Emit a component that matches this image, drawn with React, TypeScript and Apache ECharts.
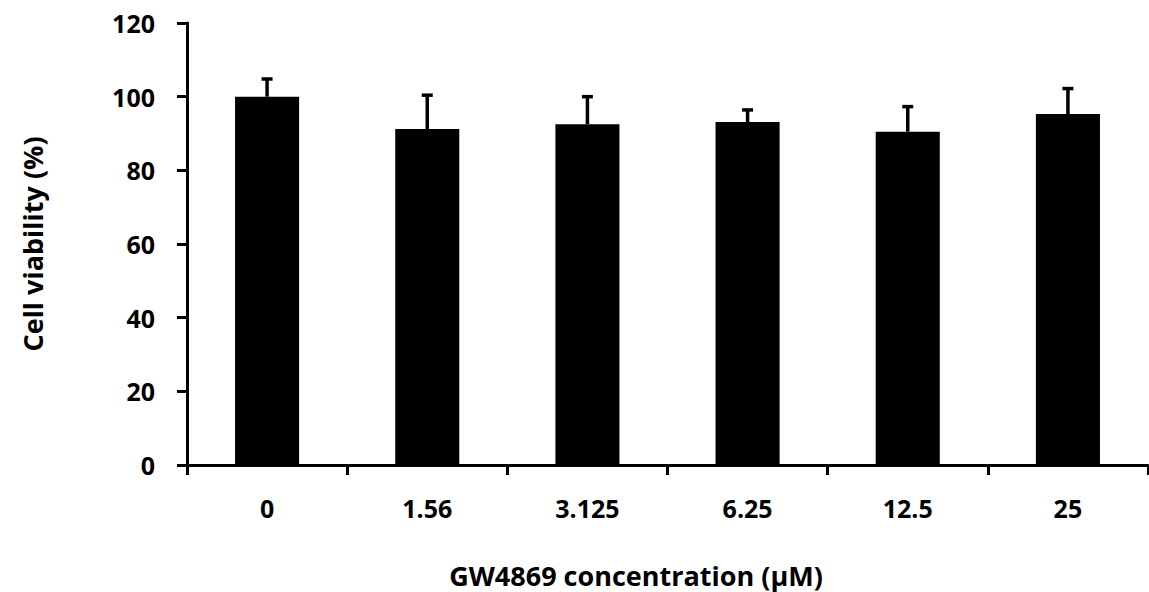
import React, { useEffect, useRef } from "react";
import * as echarts from "echarts";

const categories = ["0", "1.56", "3.125", "6.25", "12.5", "25"];
const viability = [100, 91.2, 92.5, 93.1, 90.5, 95.3];
const errors = [4.8, 9.2, 7.5, 3.3, 6.8, 6.9];
const yTicks = [0, 20, 40, 60, 80, 100, 120];

const FONT = "'Open Sans', 'Noto Sans', sans-serif";

export default function App() {
  const ref = useRef<HTMLDivElement>(null);
  useEffect(() => {
    if (!ref.current) return;
    const chart = echarts.init(ref.current, null, { renderer: "svg" });
    const errData = categories.map((c, i) => [i, viability[i], viability[i] + errors[i]]);
    chart.setOption({
      animation: false,
      grid: { left: 187, right: 1, top: 23, bottom: 127, containLabel: false },
      xAxis: {
        type: "category",
        data: categories,
        axisLine: { lineStyle: { color: "#000", width: 3 } },
        axisTick: { show: true, length: 10, lineStyle: { color: "#000", width: 3 } },
        axisLabel: { color: "#000", fontFamily: FONT, fontWeight: "bold", fontSize: 25, margin: 30 },
      },
      yAxis: {
        type: "value",
        min: yTicks[0],
        max: yTicks[yTicks.length - 1],
        interval: 20,
        axisLine: { show: true, lineStyle: { color: "#000", width: 3 } },
        axisTick: { show: true, length: 10, lineStyle: { color: "#000", width: 3 } },
        axisLabel: { color: "#000", fontFamily: FONT, fontWeight: "bold", fontSize: 25, margin: 32 },
        splitLine: { show: false },
      },
      series: [
        {
          type: "bar",
          data: viability,
          barWidth: "40%",
          itemStyle: { color: "#000" },
        },
        {
          type: "custom",
          data: errData,
          z: 10,
          renderItem: (params: any, api: any) => {
            const x = api.value(0);
            const base = api.coord([x, api.value(1)]);
            const top = api.coord([x, api.value(2)]);
            const hw = 5.5;
            return {
              type: "group",
              children: [
                {
                  type: "line",
                  shape: { x1: base[0], y1: base[1], x2: top[0], y2: top[1] },
                  style: { stroke: "#000", lineWidth: 3.5 },
                },
                {
                  type: "line",
                  shape: { x1: top[0] - hw, y1: top[1], x2: top[0] + hw, y2: top[1] },
                  style: { stroke: "#000", lineWidth: 3.5 },
                },
              ],
            };
          },
        },
      ],
      graphic: [
        {
          type: "text",
          x: 636,
          y: 575,
          style: {
            text: "GW4869 concentration (µM)",
            fill: "#000",
            font: `bold 27px ${FONT}`,
            textAlign: "center",
            textVerticalAlign: "middle",
          },
        },
        {
          type: "text",
          x: 32,
          y: 244,
          rotation: Math.PI / 2,
          style: {
            text: "Cell viability (%)",
            fill: "#000",
            font: `bold 27px ${FONT}`,
            textAlign: "center",
            textVerticalAlign: "middle",
          },
        },
      ],
    });
    return () => chart.dispose();
  }, []);
  return <div ref={ref} style={{ width: 1149, height: 592, position: "absolute", left: 0, top: 0 }} />;
}
